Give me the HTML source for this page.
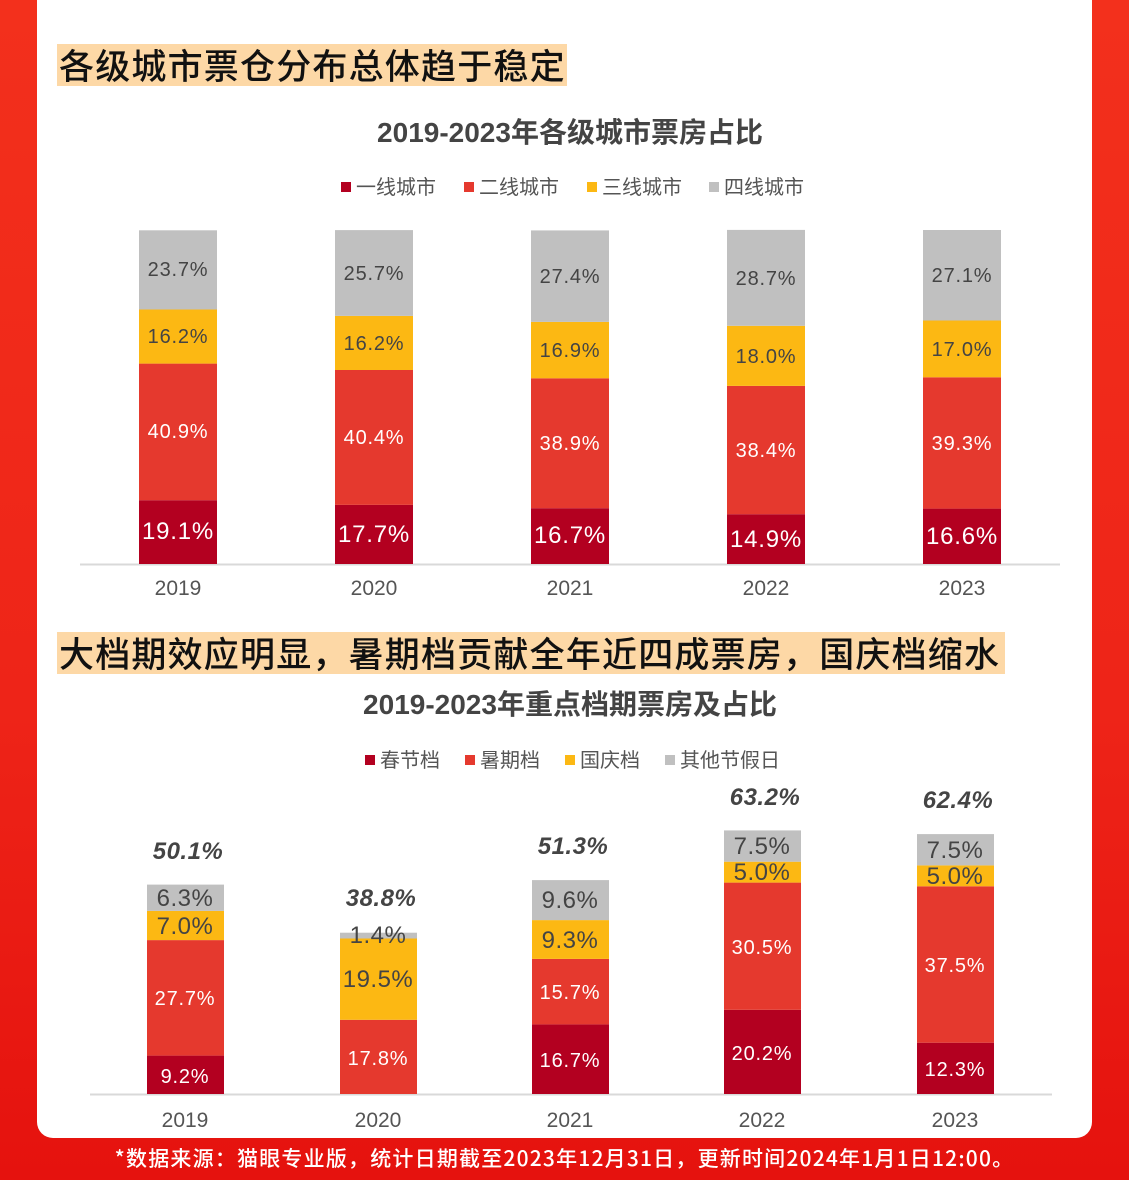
<!DOCTYPE html>
<html><head><meta charset="utf-8"><style>
html,body{margin:0;padding:0;}
body{width:1129px;height:1183px;position:relative;overflow:hidden;background:#fff;font-family:"Liberation Sans","Noto Sans CJK SC",sans-serif;}
.bg{position:absolute;left:0;top:0;width:1129px;height:1180px;background:linear-gradient(180deg,#f3301c 0%,#ee2418 60%,#e5120e 100%);}
.card{position:absolute;left:37px;top:-20px;width:1055px;height:1158px;background:#fff;border-radius:0 0 16px 16px;}
.hl{position:absolute;background:#fdd8a6;color:#111;font-size:35px;line-height:42px;font-weight:500;font-family:"Noto Sans CJK SC",sans-serif;padding-left:2px;letter-spacing:1.2px;white-space:nowrap;}
.foot{position:absolute;left:0;width:1129px;top:1143px;text-align:center;color:#fff;font-size:21px;letter-spacing:1.2px;font-weight:500;font-family:"Noto Sans CJK SC",sans-serif;}
svg{position:absolute;left:0;top:0;}
</style></head><body>
<div class="bg"></div>
<div class="card"></div>
<div class="hl" style="left:57px;top:44px;width:508px;height:42px;">各级城市票仓分布总体趋于稳定</div>
<div class="hl" style="left:57px;top:632px;width:946px;height:42px;">大档期效应明显，暑期档贡献全年近四成票房，国庆档缩水</div>
<svg width="1129" height="1183" font-family="Liberation Sans, Noto Sans CJK SC, sans-serif">
<text x="570" y="142" text-anchor="middle" font-size="28" font-weight="bold" fill="#444">2019-2023年各级城市票房占比</text>
<g font-size="20" fill="#555">
<rect x="341" y="182" width="10" height="10" fill="#b30020"/><text x="356" y="194">一线城市</text>
<rect x="464" y="182" width="10" height="10" fill="#e5392e"/><text x="479" y="194">二线城市</text>
<rect x="587" y="182" width="10" height="10" fill="#fcb813"/><text x="602" y="194">三线城市</text>
<rect x="709" y="182" width="10" height="10" fill="#c0c0c0"/><text x="724" y="194">四线城市</text>
</g>
<line x1="80" y1="564.5" x2="1060" y2="564.5" stroke="#d9d9d9" stroke-width="2"/>
<g>
<rect x="139" y="500.2" width="78" height="63.8" fill="#b30020"/><rect x="139" y="363.6" width="78" height="136.6" fill="#e5392e"/><rect x="139" y="309.5" width="78" height="54.1" fill="#fcb813"/><rect x="139" y="230.3" width="78" height="79.2" fill="#c0c0c0"/>
<rect x="335" y="504.9" width="78" height="59.1" fill="#b30020"/><rect x="335" y="370" width="78" height="134.9" fill="#e5392e"/><rect x="335" y="315.9" width="78" height="54.1" fill="#fcb813"/><rect x="335" y="230.1" width="78" height="85.8" fill="#c0c0c0"/>
<rect x="531" y="508.2" width="78" height="55.8" fill="#b30020"/><rect x="531" y="378.3" width="78" height="129.9" fill="#e5392e"/><rect x="531" y="321.9" width="78" height="56.4" fill="#fcb813"/><rect x="531" y="230.4" width="78" height="91.5" fill="#c0c0c0"/>
<rect x="727" y="514.2" width="78" height="49.8" fill="#b30020"/><rect x="727" y="385.9" width="78" height="128.3" fill="#e5392e"/><rect x="727" y="325.8" width="78" height="60.1" fill="#fcb813"/><rect x="727" y="229.9" width="78" height="95.9" fill="#c0c0c0"/>
<rect x="923" y="508.6" width="78" height="55.4" fill="#b30020"/><rect x="923" y="377.3" width="78" height="131.3" fill="#e5392e"/><rect x="923" y="320.5" width="78" height="56.8" fill="#fcb813"/><rect x="923" y="230" width="78" height="90.5" fill="#c0c0c0"/>
</g>
<g text-anchor="middle" font-size="24" fill="#fff" letter-spacing="0.8">
<text x="178" y="539">19.1%</text><text x="374" y="542">17.7%</text><text x="570" y="543">16.7%</text><text x="766" y="547">14.9%</text><text x="962" y="544">16.6%</text>
</g>
<g text-anchor="middle" font-size="20" fill="#fff" letter-spacing="0.8">
<text x="178" y="438">40.9%</text><text x="374" y="444">40.4%</text><text x="570" y="450">38.9%</text><text x="766" y="457">38.4%</text><text x="962" y="450">39.3%</text>
</g>
<g text-anchor="middle" font-size="20" fill="#444" letter-spacing="0.8">
<text x="178" y="343">16.2%</text><text x="374" y="350">16.2%</text><text x="570" y="357">16.9%</text><text x="766" y="363">18.0%</text><text x="962" y="356">17.0%</text>
<text x="178" y="276">23.7%</text><text x="374" y="280">25.7%</text><text x="570" y="283">27.4%</text><text x="766" y="285">28.7%</text><text x="962" y="282">27.1%</text>
</g>
<g text-anchor="middle" font-size="21" fill="#555">
<text x="178" y="595">2019</text><text x="374" y="595">2020</text><text x="570" y="595">2021</text><text x="766" y="595">2022</text><text x="962" y="595">2023</text>
</g>

<text x="570" y="714" text-anchor="middle" font-size="28" font-weight="bold" fill="#444">2019-2023年重点档期票房及占比</text>
<g font-size="20" fill="#555">
<rect x="365" y="755" width="10" height="10" fill="#b30020"/><text x="380" y="767">春节档</text>
<rect x="465" y="755" width="10" height="10" fill="#e5392e"/><text x="480" y="767">暑期档</text>
<rect x="565" y="755" width="10" height="10" fill="#fcb813"/><text x="580" y="767">国庆档</text>
<rect x="665" y="755" width="10" height="10" fill="#c0c0c0"/><text x="680" y="767">其他节假日</text>
</g>
<line x1="90" y1="1094.5" x2="1052" y2="1094.5" stroke="#d9d9d9" stroke-width="2"/>
<rect x="147" y="1055.6" width="77" height="38.4" fill="#b30020"/><rect x="147" y="940.1" width="77" height="115.5" fill="#e5392e"/><rect x="147" y="910.9" width="77" height="29.2" fill="#fcb813"/><rect x="147" y="884.6" width="77" height="26.3" fill="#c0c0c0"/>
<rect x="340" y="1019.8" width="77" height="74.2" fill="#e5392e"/><rect x="340" y="938.5" width="77" height="81.3" fill="#fcb813"/><rect x="340" y="932.7" width="77" height="5.8" fill="#c0c0c0"/>
<rect x="532" y="1024.4" width="77" height="69.6" fill="#b30020"/><rect x="532" y="958.9" width="77" height="65.5" fill="#e5392e"/><rect x="532" y="920.1" width="77" height="38.8" fill="#fcb813"/><rect x="532" y="880.1" width="77" height="40" fill="#c0c0c0"/>
<rect x="724" y="1009.8" width="77" height="84.2" fill="#b30020"/><rect x="724" y="882.6" width="77" height="127.2" fill="#e5392e"/><rect x="724" y="861.7" width="77" height="20.9" fill="#fcb813"/><rect x="724" y="830.4" width="77" height="31.3" fill="#c0c0c0"/>
<rect x="917" y="1042.7" width="77" height="51.3" fill="#b30020"/><rect x="917" y="886.3" width="77" height="156.4" fill="#e5392e"/><rect x="917" y="865.4" width="77" height="20.9" fill="#fcb813"/><rect x="917" y="834.1" width="77" height="31.3" fill="#c0c0c0"/>
<g text-anchor="middle" font-size="20" fill="#fff" letter-spacing="0.8">
<text x="185" y="1083">9.2%</text><text x="378" y="1065">17.8%</text><text x="570" y="1067">16.7%</text><text x="762" y="1060">20.2%</text><text x="955" y="1076">12.3%</text>
<text x="185" y="1005">27.7%</text><text x="570" y="999">15.7%</text><text x="762" y="954">30.5%</text><text x="955" y="972">37.5%</text>
</g>
<g text-anchor="middle" font-size="24" fill="#444" letter-spacing="0.5">
<text x="185" y="906">6.3%</text><text x="185" y="934">7.0%</text>
<text x="378" y="943">1.4%</text><text x="378" y="987">19.5%</text>
<text x="570" y="908">9.6%</text><text x="570" y="948">9.3%</text>
<text x="762" y="854">7.5%</text><text x="762" y="880">5.0%</text>
<text x="955" y="858">7.5%</text><text x="955" y="884">5.0%</text>
</g>
<g text-anchor="middle" font-size="24" font-weight="bold" font-style="italic" fill="#444" letter-spacing="0.5">
<text x="188" y="859">50.1%</text><text x="381" y="906">38.8%</text><text x="573" y="854">51.3%</text><text x="765" y="805">63.2%</text><text x="958" y="808">62.4%</text>
</g>
<g text-anchor="middle" font-size="21" fill="#555">
<text x="185" y="1127">2019</text><text x="378" y="1127">2020</text><text x="570" y="1127">2021</text><text x="762" y="1127">2022</text><text x="955" y="1127">2023</text>
</g>
</svg>
<div class="foot">*数据来源：猫眼专业版，统计日期截至2023年12月31日，更新时间2024年1月1日12:00。</div>
</body></html>
